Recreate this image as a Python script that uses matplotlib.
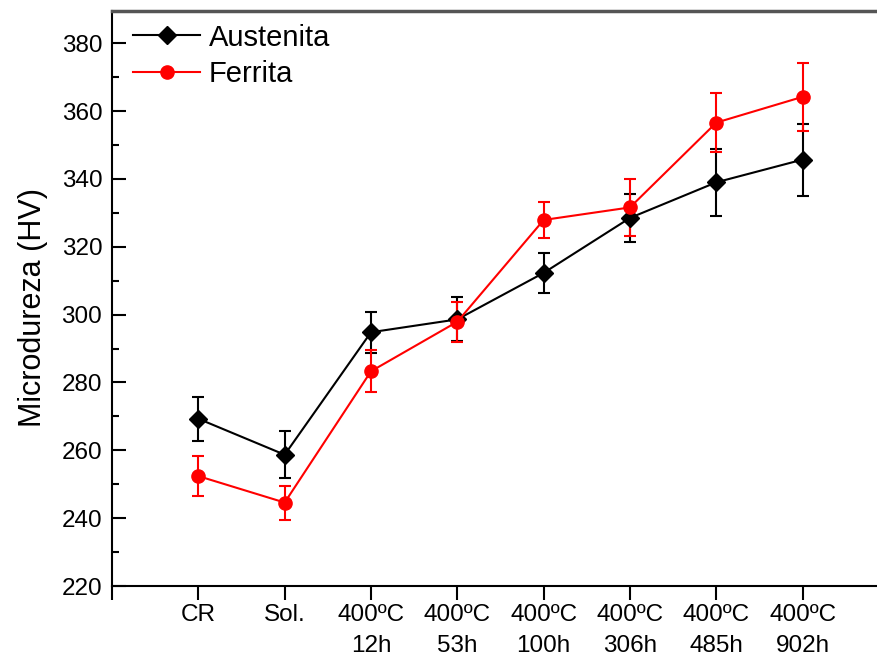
import matplotlib
matplotlib.use("Agg")
import matplotlib.pyplot as plt
from matplotlib.ticker import MultipleLocator
from matplotlib.lines import Line2D

plt.rcParams['font.family'] = ['Liberation Sans', 'DejaVu Sans']

categories = ["CR", "Sol.", "400ºC\n12h", "400ºC\n53h", "400ºC\n100h",
              "400ºC\n306h", "400ºC\n485h", "400ºC\n902h"]
austenita = [269.3, 258.7, 294.8, 298.6, 312.3, 328.5, 339.0, 345.7]
austenita_err = [6.5, 7.0, 6.0, 6.5, 6.0, 7.0, 9.9, 10.6]
ferrita = [252.4, 244.6, 283.3, 297.9, 327.9, 331.6, 356.6, 364.2]
ferrita_err = [6.0, 5.0, 6.2, 5.9, 5.3, 8.3, 8.6, 10.0]

W, H = 877, 664
fig = plt.figure(figsize=(W / 100, H / 100), dpi=100)
left, right, bottom, top = 112, 889, 586, 11
ax = fig.add_axes([left / W, (H - bottom) / H, (right - left) / W, (bottom - top) / H])

x = list(range(1, len(categories) + 1))

aus_style = dict(color="black", marker="D", markersize=9.5, linewidth=1.5)
fer_style = dict(color="#ff0000", marker="o", markersize=9.5, linewidth=1.5)

ax.errorbar(x, austenita, yerr=austenita_err, elinewidth=1.5, capsize=4,
            capthick=1.5, zorder=3, **aus_style)
ax.errorbar(x, ferrita, yerr=ferrita_err, elinewidth=1.5, capsize=4,
            capthick=1.5, zorder=3, **fer_style)

ax.set_xlim(0, 9)
ax.set_ylim(220, 389.5)
ax.set_xticks(range(0, 10))
ax.set_xticklabels([""] + categories + [""], linespacing=1.5)
ax.yaxis.set_major_locator(MultipleLocator(20))
ax.yaxis.set_minor_locator(MultipleLocator(10))

ax.tick_params(axis="x", direction="out", length=10, width=1.5, pad=3,
               labelsize=17.5)
ax.tick_params(axis="y", which="major", direction="in", length=10, width=1.5,
               pad=7, labelsize=17.5)
ax.tick_params(axis="y", which="minor", direction="in", length=5, width=1.5)

ax.spines["right"].set_visible(False)
ax.spines["left"].set_linewidth(1.5)
ax.spines["bottom"].set_linewidth(1.5)
ax.spines["top"].set_linewidth(2.5)
ax.spines["top"].set_color("#555555")

ax.set_ylabel("Microdureza (HV)", fontsize=22)
ax.yaxis.set_label_coords(-0.082, 0.485)

handles = [Line2D([], [], **aus_style), Line2D([], [], **fer_style)]
ax.legend(handles, ["Austenita", "Ferrita"], loc="upper left",
          bbox_to_anchor=(0.027, 0.978), frameon=False,
          fontsize=21, handlelength=2.3, handletextpad=0.3,
          borderaxespad=0, labelspacing=0.3, borderpad=0)

fig.savefig("out.png", dpi=100)
